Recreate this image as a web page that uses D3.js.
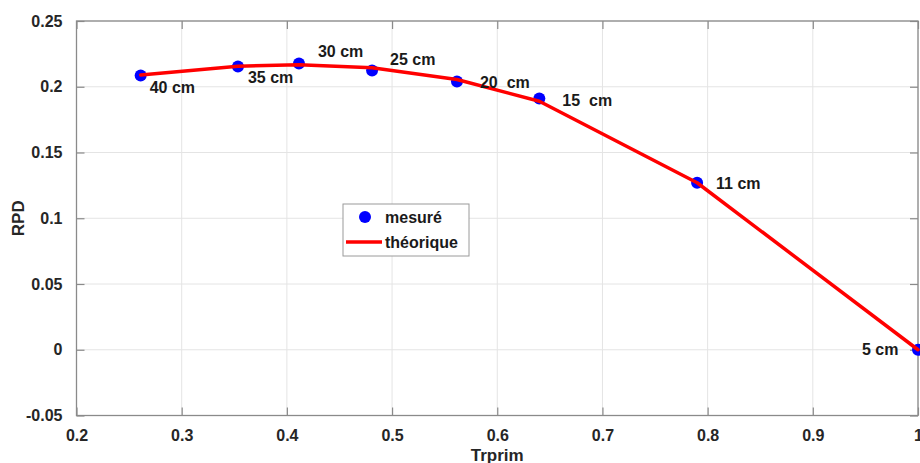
<!DOCTYPE html>
<html><head><meta charset="utf-8">
<script src="https://cdn.jsdelivr.net/npm/d3@7"></script>
<style>
html,body{margin:0;padding:0;background:#fff;}
svg{display:block;font-family:"Liberation Sans",Arial,Helvetica,sans-serif;}
</style></head>
<body><svg id="c" width="920" height="463"></svg>
<script>
// Data
const trprim      = [0.261, 0.3535, 0.4115, 0.481, 0.5617, 0.640, 0.790, 1.000];
const rpdMesure   = [0.2085, 0.2154, 0.2177, 0.2123, 0.2040, 0.1910, 0.1270, 0.0000];
const rpdTheorique= [0.2090, 0.2156, 0.2167, 0.2144, 0.2055, 0.1890, 0.1270, 0.0000];
const pointLabels = ["40 cm", "35 cm", "30 cm", "25 cm", "20  cm", "15  cm", "11 cm", "5 cm"];
const xTicks = [0.2, 0.3, 0.4, 0.5, 0.6, 0.7, 0.8, 0.9, 1];
const yTicks = [-0.05, 0, 0.05, 0.1, 0.15, 0.2, 0.25];
const xTickLabels = ["0.2","0.3","0.4","0.5","0.6","0.7","0.8","0.9","1"];
const yTickLabels = ["-0.05","0","0.05","0.1","0.15","0.2","0.25"];
const legendLabels = ["mesuré", "théorique"];
const xTitle = "Trprim", yTitle = "RPD";

// label offsets (px) and anchors — style, not data
const labelDx = [9, 10, 19, 18, 23, 23, 19, -56];
const labelDy = [17, 17, -6, -6, 7, 7, 6, 5];

const svg = d3.select("#c");
const L = 76.5, R = 918, T = 21, B = 415.5;
const x = d3.scaleLinear().domain([0.2, 1]).range([L, R]);
const y = d3.scaleLinear().domain([-0.05, 0.25]).range([B, T]);

const axisCol = "#8a8a8a", gridCol = "#e4e4e4";

// grid
const g = svg.append("g");
g.selectAll(".gx").data(xTicks).join("line")
  .attr("x1", d => x(d)).attr("x2", d => x(d)).attr("y1", T).attr("y2", B)
  .attr("stroke", gridCol).attr("stroke-width", 1);
g.selectAll(".gy").data(yTicks).join("line")
  .attr("y1", d => y(d)).attr("y2", d => y(d)).attr("x1", L).attr("x2", R)
  .attr("stroke", gridCol).attr("stroke-width", 1);

// axes (inward ticks)
function styleAxis(sel){
  sel.select(".domain").remove();
  sel.selectAll(".tick line").attr("stroke", axisCol).attr("stroke-width", 1.2);
  sel.selectAll(".tick text").attr("fill", "#262626").attr("font-size", 16).attr("font-weight", "bold")
     .attr("font-family", "'Liberation Sans',Arial,sans-serif");
}
const xb = svg.append("g").attr("transform", `translate(0,${B})`)
  .call(d3.axisBottom(x).tickValues(xTicks).tickFormat((d,i)=>xTickLabels[i]).tickSizeInner(-8).tickSizeOuter(0).tickPadding(14));
styleAxis(xb);
const xt = svg.append("g").attr("transform", `translate(0,${T})`)
  .call(d3.axisTop(x).tickValues(xTicks).tickFormat("").tickSizeInner(-8).tickSizeOuter(0));
styleAxis(xt);
const yl = svg.append("g").attr("transform", `translate(${L},0)`)
  .call(d3.axisLeft(y).tickValues(yTicks).tickFormat((d,i)=>yTickLabels[i]).tickSizeInner(-8).tickSizeOuter(0).tickPadding(14));
styleAxis(yl);
const yr = svg.append("g").attr("transform", `translate(${R},0)`)
  .call(d3.axisRight(y).tickValues(yTicks).tickFormat("").tickSizeInner(-8).tickSizeOuter(0));
styleAxis(yr);

// box
svg.append("rect").attr("x", L).attr("y", T).attr("width", R-L).attr("height", B-T)
  .attr("fill", "none").attr("stroke", axisCol).attr("stroke-width", 1.3);

// measured points
svg.selectAll(".pt").data(trprim).join("circle")
  .attr("cx", d => x(d)).attr("cy", (d,i) => y(rpdMesure[i])).attr("r", 6)
  .attr("fill", "#0000ff");

// theoretical line
const line = d3.line().x(d => x(d[0])).y(d => y(d[1]));
svg.append("path").datum(trprim.map((d,i)=>[d, rpdTheorique[i]]))
  .attr("d", line).attr("fill", "none").attr("stroke", "#ff0000").attr("stroke-width", 3.5)
  .attr("stroke-linejoin", "round").attr("stroke-linecap", "round");

// point labels
svg.selectAll(".lbl").data(pointLabels).join("text")
  .attr("x", (d,i) => x(trprim[i]) + labelDx[i])
  .attr("y", (d,i) => y(rpdMesure[i]) + labelDy[i])
  .attr("font-size", 16).attr("font-weight", "bold").attr("fill", "#1a1a1a")
  .style("white-space", "pre").attr("xml:space", "preserve")
  .text(d => d);

// axis titles
svg.append("text").attr("x", (L+R)/2).attr("y", 461).attr("text-anchor", "middle")
  .attr("font-size", 17).attr("font-weight", "bold").attr("fill", "#262626").text(xTitle);
svg.append("text").attr("transform", `translate(24,${(T+B)/2}) rotate(-90)`).attr("text-anchor", "middle")
  .attr("font-size", 17).attr("font-weight", "bold").attr("fill", "#262626").text(yTitle);

// legend
const lg = svg.append("g").attr("transform", "translate(343,204)");
lg.append("rect").attr("width", 126).attr("height", 52).attr("fill", "#fff")
  .attr("stroke", "#9a9a9a").attr("stroke-width", 1);
lg.append("circle").attr("cx", 22).attr("cy", 13).attr("r", 6).attr("fill", "#0000ff");
lg.append("line").attr("x1", 3).attr("x2", 39).attr("y1", 38).attr("y2", 38)
  .attr("stroke", "#ff0000").attr("stroke-width", 3.5);
lg.selectAll(".lt").data(legendLabels).join("text")
  .attr("x", 42).attr("y", (d,i) => 19 + i*25)
  .attr("font-size", 16).attr("font-weight", "bold").attr("fill", "#1a1a1a").text(d => d);
</script>
</body></html>
